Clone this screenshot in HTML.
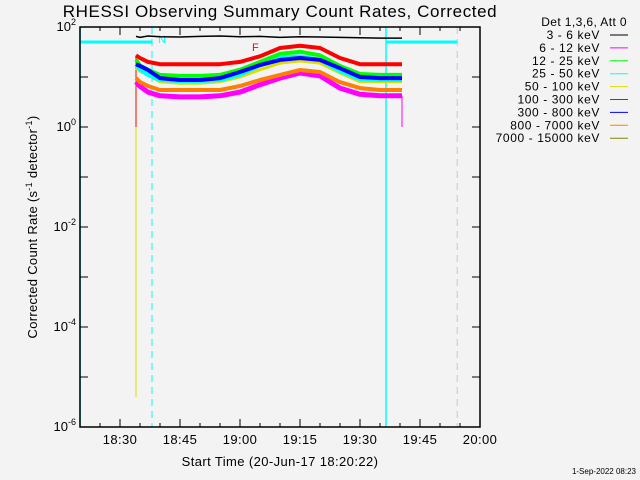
<!DOCTYPE html>
<html><head><meta charset="utf-8"><style>
body{margin:0;background:#f3f3f3;}
svg{display:block;font-family:"Liberation Sans",sans-serif;}
</style></head><body>
<svg id="c" width="640" height="480" viewBox="0 0 640 480">
<rect width="640" height="480" fill="#f3f3f3"/>
<text x="280" y="17" font-size="17" letter-spacing="0.6" text-anchor="middle">RHESSI Observing Summary Count Rates, Corrected</text>
<text transform="translate(37,227) rotate(-90)" font-size="13" letter-spacing="0.3" text-anchor="middle">Corrected Count Rate (s<tspan dy="-5" font-size="9">-1</tspan><tspan dy="5"> detector</tspan><tspan dy="-5" font-size="9">-1</tspan><tspan dy="5">)</tspan></text>
<text x="280" y="466" font-size="13" letter-spacing="0.4" text-anchor="middle">Start Time (20-Jun-17 18:20:22)</text>
<text x="636" y="474" font-size="8" text-anchor="end">1-Sep-2022 08:23</text>
<g id="grid"></g>
<g id="marks"></g>
<g id="axes"></g>
<g id="legend"></g>
</svg>
<script>
const times=[14,15,17,20,25,30,35,40,45,50,55,60,65,70,75,80.5];
const black=[65,62,66,64,63,65,66,64,65,62,64,63,62,61,60,60];
const magenta=[8,6.5,5,4.2,4,4,4.2,5,7,9.5,12,10.5,6,4.5,4.2,4.2];
const green=[22,17,14,11,10.5,10.5,11,14,20,29,32,27,16.6,11.5,11,11];
const cyan=[18,14,11,8.7,8.3,8.3,8.7,11,17,24,26,22,13,9,8.7,8.7];
const yellow=[15,13,11,8,7.5,7.5,8,10,14,19,21,19,12,8,8,8];
const red=[27,24,20,18,18,18,18,20,26,38,42,38,24,18,18,18];
const blue=[18,16.6,13.8,9.5,8.7,8.7,9.5,12.6,17.4,22,24,22,15,10,9.5,9.5];
const orange=[9.5,7.9,6.6,5.5,5.5,5.5,5.5,6.6,8.7,11,13.8,12.6,7.9,6,5.5,5.5];
const xTickLabels=["18:30","18:45","19:00","19:15","19:30","19:45","20:00"];
const xTickMinutes=[10,25,40,55,70,85,100];
const yTickExps=[2,0,-2,-4,-6];
const legendLabels=["3 - 6 keV","6 - 12 keV","12 - 25 keV","25 - 50 keV","50 - 100 keV","100 - 300 keV","300 - 800 keV","800 - 7000 keV","7000 - 15000 keV"];
const legendColors=["#000","#ff00ff","#00ff00","#00ffff","#dddd00","#ff0000","#0000ff","#ff8000","#888800"];

const X0=80,X1=480,Y0=427,Y1=27;
const xs=m=>X0+(m/100)*(X1-X0);
const ys=v=>Y0-(Math.log10(v)+6)/8*(Y0-Y1);
const NS="http://www.w3.org/2000/svg";
function mk(t,a,p){const e=document.createElementNS(NS,t);for(const k in a)e.setAttribute(k,a[k]);p.appendChild(e);return e;}
const grid=document.getElementById('grid'),marks=document.getElementById('marks'),axes=document.getElementById('axes'),leg=document.getElementById('legend');

let l;
l=mk('line',{x1:xs(0),y1:Y1,x2:xs(0),y2:Y0,stroke:'#00ffff','stroke-width':1.5},grid);

l=mk('line',{x1:xs(76.5),y1:Y1,x2:xs(76.5),y2:Y0,stroke:'#00ffff','stroke-width':1.5},grid);

l=mk('line',{x1:xs(18),y1:Y1,x2:xs(18),y2:Y0,stroke:'#00ffff','stroke-width':1,'stroke-dasharray':'7,5'},grid);

l=mk('line',{x1:xs(94.3),y1:Y1,x2:xs(94.3),y2:Y0,stroke:'#c8c8c8','stroke-width':1,'stroke-dasharray':'7,5'},grid);

l=mk('line',{x1:xs(0),y1:42,x2:xs(18),y2:42,stroke:'#00ffff','stroke-width':3},grid);

l=mk('line',{x1:xs(76.5),y1:42,x2:xs(94.3),y2:42,stroke:'#00ffff','stroke-width':3},grid);

let t=mk('text',{x:158,y:43,'font-size':11,fill:'#00ffff'},grid);t.textContent='N';

t=mk('text',{x:252,y:51,'font-size':11,fill:'#ff0000'},grid);t.textContent='F';


l=mk('line',{x1:xs(14),y1:ys(yellow[0]),x2:xs(14),y2:ys(4e-6),stroke:'#dddd00','stroke-width':1},marks);

l=mk('line',{x1:xs(14),y1:ys(red[0]),x2:xs(14),y2:ys(1),stroke:'#ff0000','stroke-width':1},marks);

l=mk('line',{x1:xs(80.5),y1:ys(magenta[15]),x2:xs(80.5),y2:ys(1),stroke:'#ff00ff','stroke-width':1},marks);


const series=[["magenta",magenta,"#ff00ff",5],["orange",orange,"#ff8000",4],["yellow",yellow,"#dddd00",3],["cyan",cyan,"#00ffff",4],["green",green,"#00ff00",4],["blue",blue,"#0000ff",4],["red",red,"#ff0000",4],["black",black,"#000000",1.5]];
for(const [n,arr,c,w] of series){
  const pts=arr.map((v,i)=>xs(times[i]).toFixed(1)+','+ys(v).toFixed(1)).join(' ');
  const p=mk('polyline',{points:pts,fill:'none',stroke:c,'stroke-width':w,'stroke-linejoin':'round'},marks);
  
  
}

const box=mk('rect',{x:X0,y:Y1,width:X1-X0,height:Y0-Y1,fill:'none',stroke:'#000','stroke-width':1.5},axes);

for(let m=0;m<=100;m+=5){
  const maj=(m%15===10);const len=maj?8:4;
  mk('line',{x1:xs(m),y1:Y0,x2:xs(m),y2:Y0-len,stroke:'#000'},axes);
  mk('line',{x1:xs(m),y1:Y1,x2:xs(m),y2:Y1+len,stroke:'#000'},axes);
}
xTickLabels.forEach((s,i)=>{const e=mk('text',{x:xs(xTickMinutes[i]),y:Y0+17,'font-size':13,'letter-spacing':0.4,'text-anchor':'middle'},axes);e.textContent=s;
 });
for(let e=-6;e<=2;e++){
  mk('line',{x1:X0,y1:ys(10**e),x2:X0+8,y2:ys(10**e),stroke:'#000'},axes);
  mk('line',{x1:X1,y1:ys(10**e),x2:X1-8,y2:ys(10**e),stroke:'#000'},axes);
}
yTickExps.forEach(e=>{const tx=mk('text',{x:X0-4,y:ys(10**e)+4,'font-size':13,'text-anchor':'end'},axes);
 tx.innerHTML='10<tspan dy="-6" font-size="9">'+e+'</tspan>';
 });

t=mk('text',{x:627,y:26,'font-size':12,'letter-spacing':0.4,'text-anchor':'end'},leg);t.textContent='Det 1,3,6, Att 0';

legendLabels.forEach((s,i)=>{const y=39+i*12.9;
 const tx=mk('text',{x:600,y:y,'font-size':12,'letter-spacing':0.6,'text-anchor':'end'},leg);tx.textContent=s;
 
 const ln=mk('line',{x1:610,y1:y-4,x2:628,y2:y-4,stroke:legendColors[i],'stroke-width':1},leg);
 });
</script>
</body></html>
